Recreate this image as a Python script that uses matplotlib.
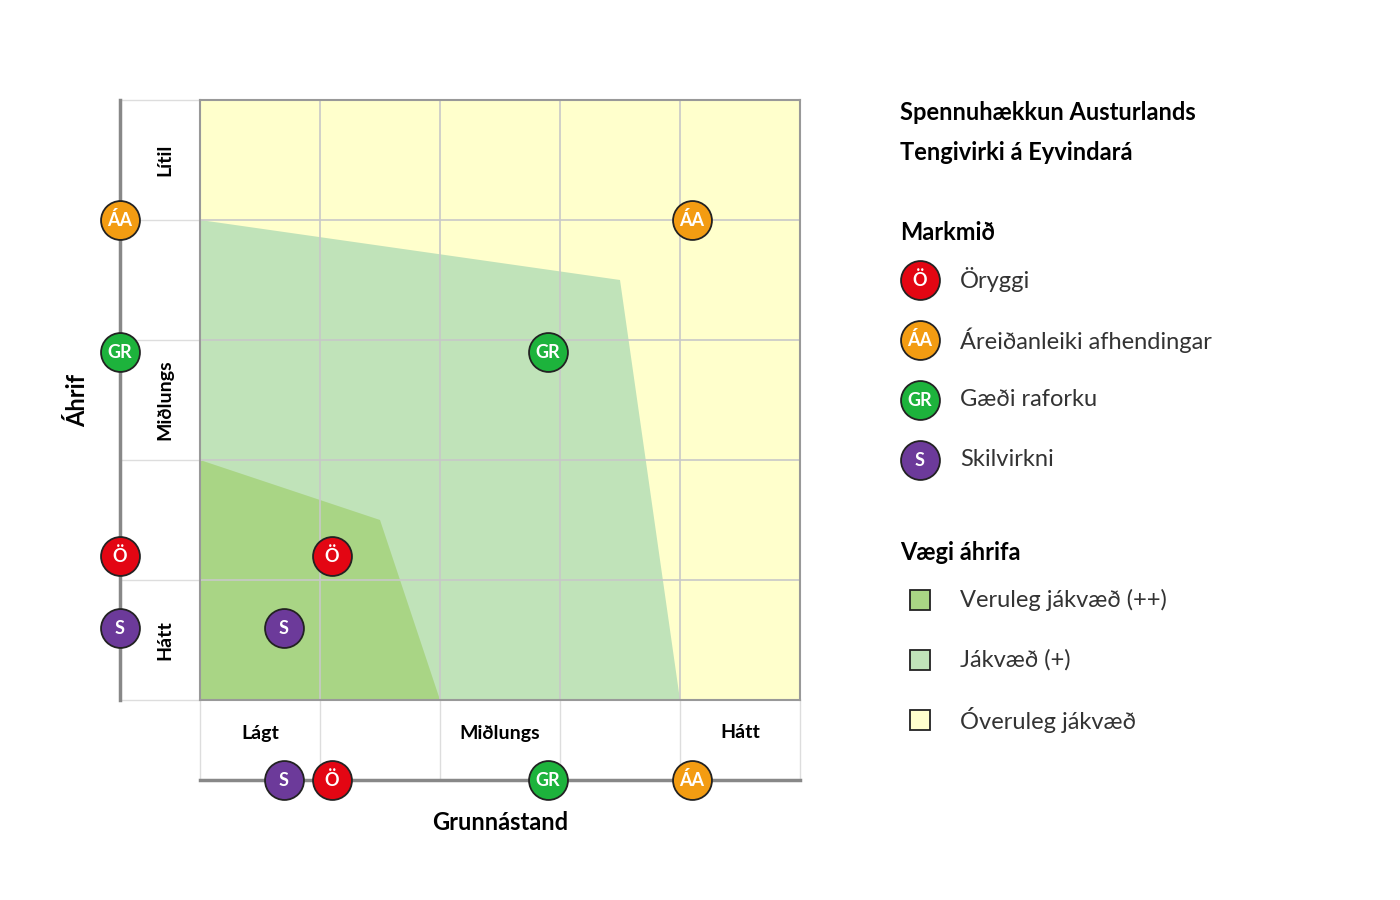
import matplotlib
matplotlib.use("Agg")
import matplotlib.pyplot as plt

plt.rcParams['font.family'] = ['Lato', 'DejaVu Sans']

# data
codes = ["Ö", "ÁA", "GR", "S"]
names = ["Öryggi", "Áreiðanleiki afhendingar", "Gæði raforku", "Skilvirkni"]
colors = ["#e30613", "#f39c12", "#1db33c", "#6c3a9a"]
grunn = [1.1, 4.1, 2.9, 0.7]      # x (Grunnástand)
ahrif = [1.2, 4.0, 2.9, 0.6]      # y (Áhrif)
col_labels = ["Lágt", "Miðlungs", "Hátt"]
row_labels = ["Hátt", "Miðlungs", "Lítil"]
zone_light = [(0, 0), (0, 4.0), (3.5, 3.5), (4.0, 0)]
zone_dark = [(0, 0), (0, 2.0), (1.5, 1.5), (2.0, 0)]
zone_names = ["Veruleg jákvæð (++)", "Jákvæð (+)", "Óveruleg jákvæð"]
zone_colors = ["#a9d585", "#c0e3b9", "#ffffcc"]

fig = plt.figure(figsize=(14, 9), dpi=100)
ax = fig.add_axes([200/1400, 200/900, 600/1400, 600/900])
ax.set_xlim(0, 5); ax.set_ylim(0, 5)
ax.set_facecolor(zone_colors[2])
ax.add_patch(plt.Polygon(zone_light, color=zone_colors[1], lw=0, zorder=1))
ax.add_patch(plt.Polygon(zone_dark, color=zone_colors[0], lw=0, zorder=1))
for v in range(1, 5):
    ax.axvline(v, color="#c8c8c8", lw=1.2, zorder=2)
    ax.axhline(v, color="#c8c8c8", lw=1.2, zorder=2)
for s in ax.spines.values():
    s.set_color("#999999"); s.set_linewidth(1.5)
ax.set_xticks([]); ax.set_yticks([])

off = -0.667
# outer axis lines
ax.plot([off, off], [0, 5], color="#888888", lw=2.5, clip_on=False, zorder=3)
ax.plot([0, 5], [off, off], color="#888888", lw=2.5, clip_on=False, zorder=3)
for v in range(0, 6):
    ax.plot([off, 0], [v, v], color="#dddddd", lw=1, clip_on=False, zorder=2)
    ax.plot([v, v], [off, 0], color="#dddddd", lw=1, clip_on=False, zorder=2)

for i, lab in enumerate(col_labels):
    ax.text(0.5 + 2*i, -0.275, lab, ha="center", va="center", fontsize=14, fontweight="bold", clip_on=False)
for i, lab in enumerate(row_labels):
    ax.text(-0.29, 0.5 + 2*i, lab, ha="center", va="center", rotation=90, fontsize=14, fontweight="bold", clip_on=False)
ax.text(-1.02, 2.5, "Áhrif", ha="center", va="center", rotation=90, fontsize=17, fontweight="bold", clip_on=False)
ax.text(2.5, -1.02, "Grunnástand", ha="center", va="center", fontsize=17, fontweight="bold", clip_on=False)

def marker(a, x, y, c, code):
    a.plot(x, y, "o", ms=28, mfc=c, mec="#222222", mew=1.3, clip_on=False, zorder=5)
    a.text(x, y, code, ha="center", va="center", color="white", fontsize=13, fontweight="bold", zorder=6, clip_on=False)

for c, col, x, y in zip(codes, colors, grunn, ahrif):
    marker(ax, x, y, col, c)
    marker(ax, off, y, col, c)
    marker(ax, x, off, col, c)

# legend overlay
lg = fig.add_axes([0, 0, 1, 1]); lg.set_xlim(0, 1400); lg.set_ylim(900, 0); lg.axis("off")
lg.text(900, 112, "Spennuhækkun Austurlands", fontsize=17, fontweight="bold", va="center")
lg.text(900, 152, "Tengivirki á Eyvindará", fontsize=17, fontweight="bold", va="center")
lg.text(900, 232, "Markmið", fontsize=17, fontweight="bold", va="center")
for i, (c, col, n) in enumerate(zip(codes, colors, names)):
    y = 280 + 60*i
    marker(lg, 920, y, col, c)
    lg.text(960, y, n, fontsize=17, va="center", color="#333333")
lg.text(900, 552, "Vægi áhrifa", fontsize=17, fontweight="bold", va="center")
for i, (n, col) in enumerate(zip(zone_names, zone_colors)):
    y = 600 + 60*i
    lg.add_patch(plt.Rectangle((910, y-10), 20, 20, facecolor=col, edgecolor="#222222", lw=1.3))
    lg.text(960, y, n, fontsize=17, va="center", color="#333333")

fig.savefig("out.png", dpi=100)
